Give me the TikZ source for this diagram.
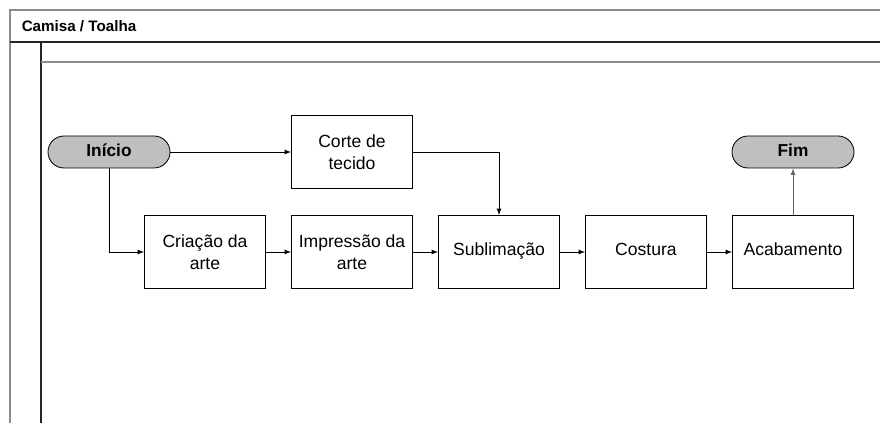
\documentclass[tikz,border=0pt]{standalone}
\usepackage{fontspec}
\setmainfont{Liberation Sans}
\usetikzlibrary{shapes.geometric,arrows,calc}

\begin{document}
\begin{tikzpicture}[node distance=3.675cm]
	\tikzstyle{term} = [rectangle, rounded corners=0.4cm, minimum width=3.05cm, minimum height=0.8cm, draw=black, line width=0.6pt, fill=black!25, text height=0.9em, text depth=0.2em, font=\fontsize{12.3}{14}\selectfont\bfseries]
	\tikzstyle{act} = [rectangle, minimum width=3.025cm, minimum height=1.825cm, draw=black, line width=0.6pt, align=center, font=\fontsize{12.5}{15.5}\selectfont]
	\tikzstyle{oneline} = [text height=0.75em, text depth=0.22em]
	\tikzstyle{arrow} = [line width=0.6pt,->,>=latex]
	\tikzstyle{lane} = [line width=0.9pt]
  \useasboundingbox (0,0) rectangle (22,-10.575);
  % pool and lane
  \draw [lane, black!45] (0.25,-10.575) -- (0.25,-0.25) -- (22,-0.25);
  \draw [lane, black!85] (0.25,-1.05) -- (22,-1.05);
  \draw [lane, black!85] (1.025,-1.05) -- (1.025,-10.575);
  \draw [lane, black!45] (1.025,-1.55) -- (22,-1.55);
  \node (pool) [anchor=west, font=\fontsize{10.8}{13}\selectfont\bfseries] at (0.42,-0.65) {Camisa / Toalha};

  \node (arte)[act] at (5.125,-6.3) {Criação da\\arte};
  \node (impr)[act, right of = arte] {Impressão da\\arte};
  \node (subl)[act, oneline, right of = impr] {Sublimação};
  \node (cost)[act, oneline, right of = subl] {Costura};
  \node (acab)[act, oneline, right of = cost] {Acabamento};
  \node (corte)[act, above of = impr, node distance=2.5cm] {Corte de\\tecido};
  \node (inicio)[term, left of = corte, node distance=6.075cm] {Início};
  \node (fim)[term, above of = acab, node distance=2.5cm] {Fim};

  \draw [arrow] (inicio) -- (corte);
  \draw [arrow] (inicio) |- (arte);
  \draw [arrow] (arte) -- (impr);
  \draw [arrow] (impr) -- (subl);
  \draw [arrow] (corte) -| (subl);
  \draw [arrow] (subl) -- (cost);
  \draw [arrow] (cost) -- (acab);
  \draw [arrow, black!60] (acab) -- (fim);
\end{tikzpicture}
\end{document}
